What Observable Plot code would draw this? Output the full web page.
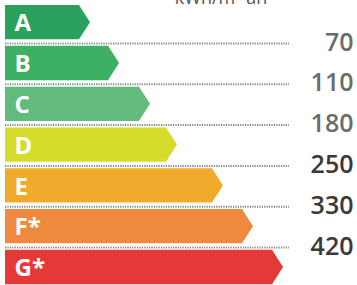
<!DOCTYPE html>
<html>
<head>
<meta charset="utf-8">
<script src="https://cdn.jsdelivr.net/npm/d3@7"></script>
<script src="https://cdn.jsdelivr.net/npm/@observablehq/plot@0.6"></script>
<style>
  html, body { margin: 0; padding: 0; background: #fff; }
  #chart svg { display: block; overflow: visible; }
</style>
</head>
<body>
<div id="chart"></div>
<script>
const title = "kWh/m² an";
const categories = ["A", "B", "C", "D", "E", "F*", "G*"];
// arrow length of each class
const lengths = [85, 114, 145, 172, 218, 248, 278];
// threshold values between classes
const thresholds = [70, 110, 180, 250, 330, 420];
const colors = ["#2aa15c", "#3db064", "#62bb7c", "#d6dc2c", "#f0ab2c", "#ef893e", "#e33a38"];

const tip = 11;
const polys = categories.flatMap((c, i) => [
  {cat: c, y: i + 0.07, x2: lengths[i] - tip},
  {cat: c, y: i + 0.49, x2: lengths[i]},
  {cat: c, y: i + 0.91, x2: lengths[i] - tip}
]);
const labels = categories.map((c, i) => ({cat: c, y: i + 0.49}));
const vals = thresholds.map((v, i) => ({v, y: i + 1, dark: i >= 3}));

const chart = Plot.plot({
  width: 357,
  height: 285,
  margin: 0,
  x: {domain: [-5, 352], range: [0, 357], axis: null},
  y: {domain: [-0.054, 6.931], range: [0, 285], axis: null},
  color: {domain: categories, range: colors},
  style: {fontFamily: "'Open Sans', sans-serif", background: "#fff"},
  marks: [
    Plot.ruleY(vals, {y: "y", x1: 0, x2: 284, stroke: "#858585", strokeWidth: 2, strokeDasharray: "1.2 1.2"}),
    Plot.areaX(polys, {y: "y", x1: 0, x2: "x2", z: "cat", fill: "cat", curve: "linear"}),
    Plot.text(labels, {x: 0, y: "y", text: "cat", dx: 9, textAnchor: "start", fill: "white",
      fontWeight: 700, fontSize: 24, dy: 1}),
    Plot.text(vals, {y: "y", text: "v", frameAnchor: "right", textAnchor: "end", dx: -4, dy: -1,
      fill: d => d.dark ? "#3a3a3a" : "#6c6c6c", fontWeight: 600, fontSize: 25}),
    Plot.text([title], {frameAnchor: "top", dx: 42, dy: -9, fill: "#555", fontSize: 18, fontWeight: 400})
  ]
});
document.getElementById("chart").appendChild(chart);
</script>
</body>
</html>
